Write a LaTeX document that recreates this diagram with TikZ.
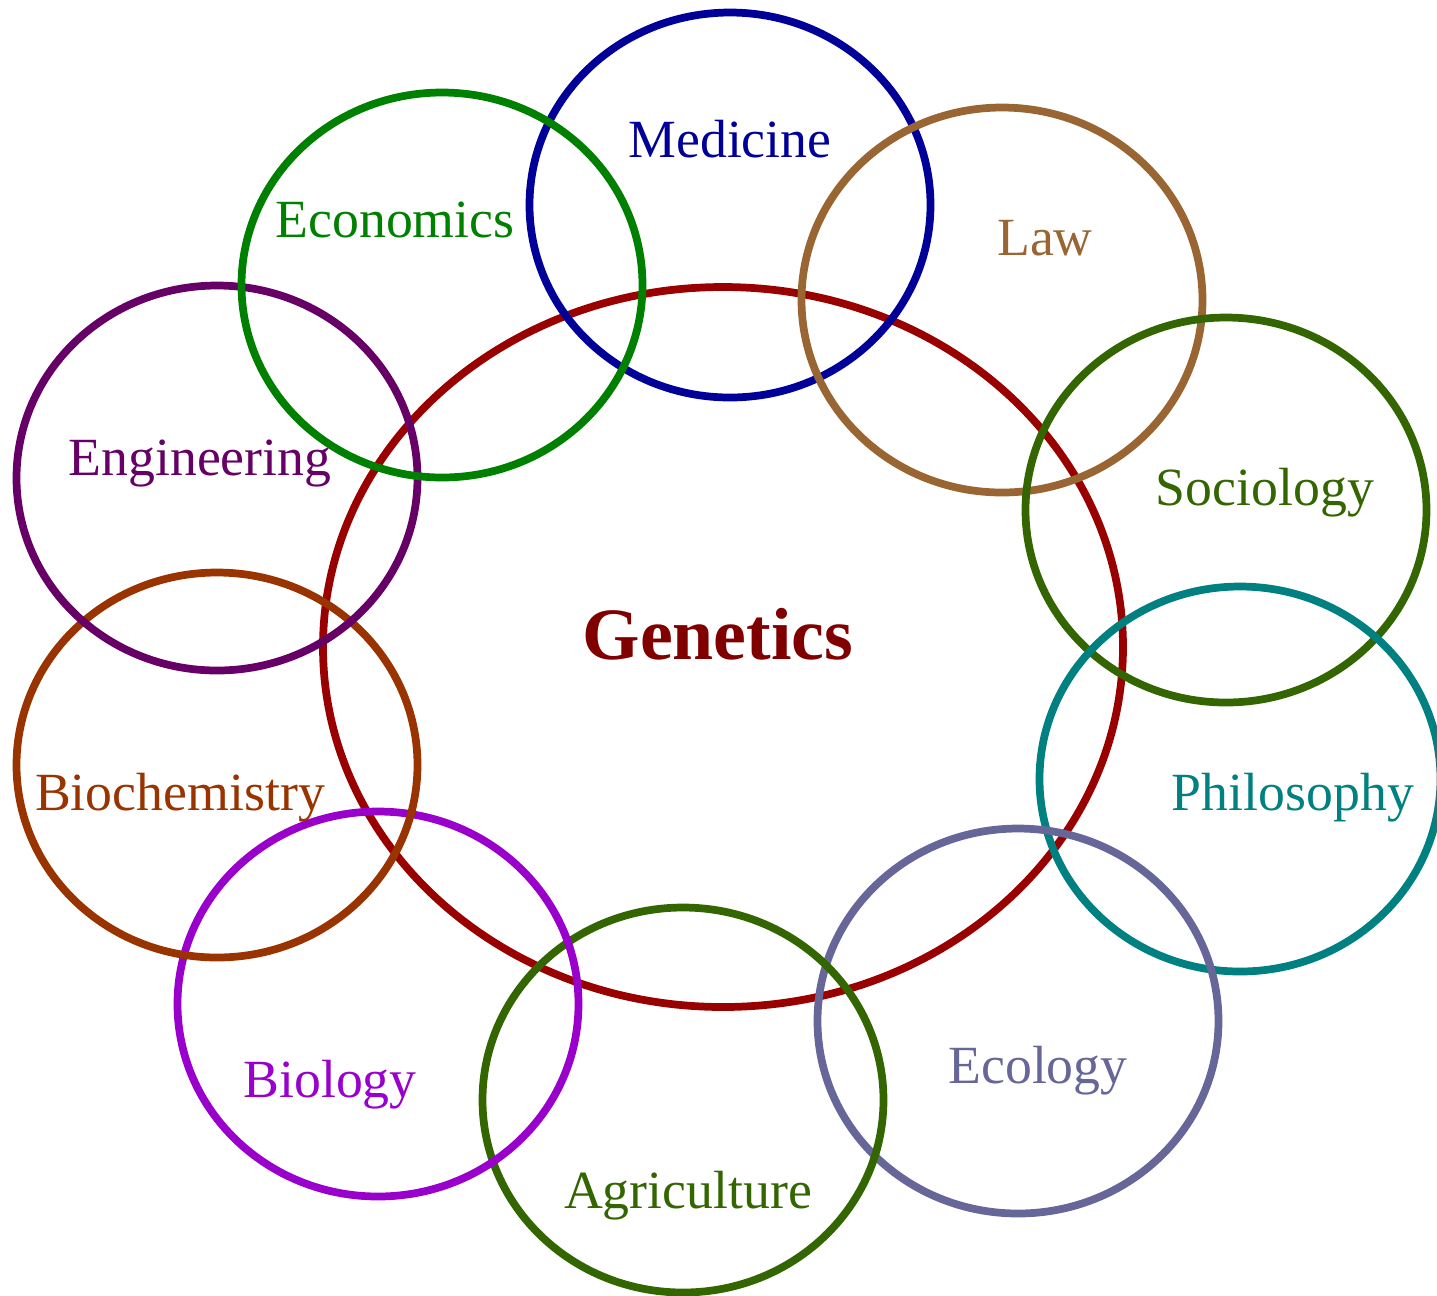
\documentclass[tikz,border=0pt]{standalone}
\usepackage{fontspec}
\setmainfont{Liberation Serif}
\usepackage{tikz}
\usetikzlibrary{shapes.geometric}

\definecolor{genred}{HTML}{990000}
\definecolor{gentext}{HTML}{800000}
\definecolor{medblue}{HTML}{000099}
\definecolor{ecogreen}{HTML}{008000}
\definecolor{lawbrown}{HTML}{996633}
\definecolor{engpurple}{HTML}{660066}
\definecolor{socgreen}{HTML}{336600}
\definecolor{biochem}{HTML}{993300}
\definecolor{philteal}{HTML}{008080}
\definecolor{biopurple}{HTML}{9900CC}
\definecolor{ecolgray}{HTML}{666699}

\begin{document}
\begin{tikzpicture}[
  field/.style={ellipse, draw=#1, line width=2.2pt, minimum width=4.01cm, minimum height=3.85cm, inner sep=0pt},
  fieldname/.style={text=#1, font=\fontsize{15.3}{18}\selectfont, inner sep=0pt}]
  \useasboundingbox (0,0) rectangle (14.37,-12.95);
  % centre
  \node[ellipse, draw=genred, line width=2.2pt, minimum width=8cm, minimum height=7.2cm, inner sep=0pt] (genetics) at (7.23,-6.47) {};
  \node[text=gentext, font=\bfseries\fontsize{21}{24}\selectfont, inner sep=0pt] (geneticsname) at (7.18,-6.34) {Genetics};
  % fields round it
  \foreach \n/\c/\x/\y/\lx/\ly/\t in {
      medicine/medblue/7.30/-2.05/7.30/-1.39/Medicine,
      law/lawbrown/10.02/-3.00/10.45/-2.38/Law,
      sociology/socgreen/12.26/-5.10/12.65/-4.93/Sociology,
      philosophy/philteal/12.40/-7.79/12.93/-7.98/Philosophy,
      ecology/ecolgray/10.18/-10.21/10.38/-10.71/Ecology,
      agriculture/socgreen/6.83/-11.00/6.88/-11.96/Agriculture,
      biology/biopurple/3.78/-10.04/3.30/-10.85/Biology,
      biochemistry/biochem/2.17/-7.65/1.80/-7.98/Biochemistry,
      engineering/engpurple/2.17/-4.78/2.00/-4.63/Engineering,
      economics/ecogreen/4.42/-2.85/3.95/-2.20/Economics}{
    \node[field=\c] (\n) at (\x,\y) {};
    \node[fieldname=\c] (\n name) at (\lx,\ly) {\t};
  }
\end{tikzpicture}
\end{document}
